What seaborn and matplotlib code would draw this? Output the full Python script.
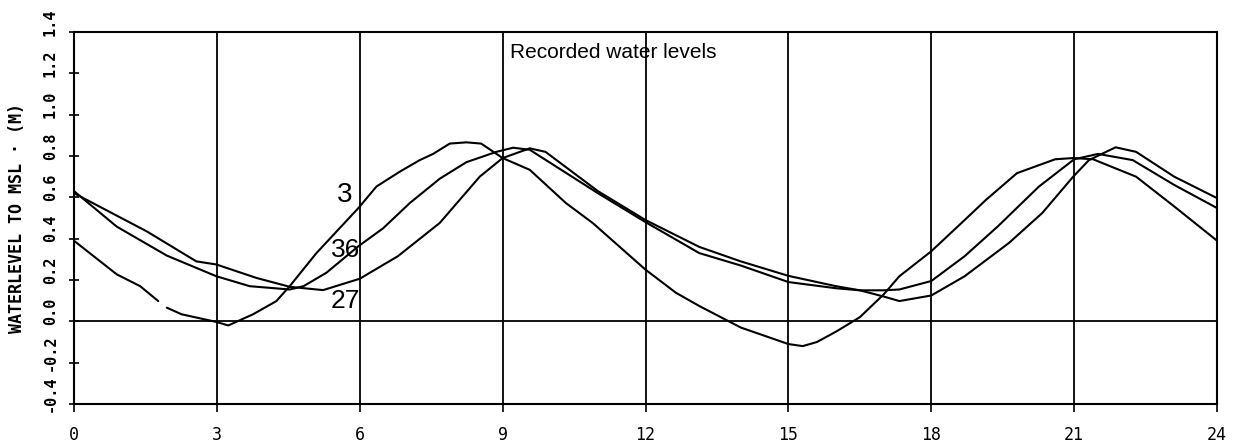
import numpy as np
import pandas as pd
import matplotlib
matplotlib.use("Agg")
import matplotlib.pyplot as plt
import matplotlib.transforms as mtransforms
import seaborn as sns

# ---- data (hours, water level to MSL in m) ----
t3_a = [0.0, 0.9, 1.39, 1.77]
v3_a = [0.39, 0.227, 0.17, 0.098]
t3_b = [1.95, 2.26, 2.99, 3.24, 3.76, 4.25, 4.53, 5.09, 5.98, 6.35, 6.84, 7.26,
        7.54, 7.89, 8.24, 8.55, 9.0, 9.57, 10.33, 10.89, 12.0, 12.64, 13.13, 14.0,
        15.0, 15.3, 15.6, 16.0, 16.5, 17.0, 17.33, 18.0, 18.7, 19.15, 19.8, 20.6,
        20.98, 21.4, 21.6, 22.3, 23.1, 24.0]
v3_b = [0.066, 0.034, -0.003, -0.02, 0.034, 0.098, 0.17, 0.33, 0.55, 0.652, 0.724, 0.78,
        0.81, 0.86, 0.866, 0.86, 0.79, 0.733, 0.572, 0.476, 0.25, 0.138, 0.074, -0.03,
        -0.11, -0.12, -0.10, -0.05, 0.02, 0.13, 0.218, 0.339, 0.49, 0.588, 0.717, 0.784,
        0.79, 0.784, 0.765, 0.70, 0.556, 0.39]

t36 = [0.0, 0.9, 1.95, 2.99, 3.69, 4.53, 4.82, 5.3, 5.97, 6.49, 7.05, 7.68, 8.24, 8.87,
       9.22, 9.57, 11.0, 12.0, 13.13, 14.0, 15.0, 16.0, 16.5, 17.0, 17.33, 18.0, 18.7,
       19.4, 20.26, 21.0, 21.5, 22.23, 23.1, 24.0]
v36 = [0.63, 0.458, 0.318, 0.218, 0.17, 0.154, 0.17, 0.235, 0.363, 0.45, 0.572, 0.69, 0.77, 0.82,
       0.84, 0.83, 0.62, 0.48, 0.33, 0.27, 0.19, 0.16, 0.15, 0.15, 0.154, 0.195, 0.315,
       0.46, 0.652, 0.784, 0.81, 0.78, 0.66, 0.548]

t27 = [0.0, 1.53, 2.57, 2.99, 3.83, 4.53, 5.23, 6.0, 6.8, 7.68, 8.52, 9.0, 9.57, 9.9,
       11.0, 12.0, 13.13, 14.0, 15.0, 16.0, 16.5, 17.0, 17.33, 18.0, 18.7, 19.63, 20.33,
       20.98, 21.31, 21.87, 22.3, 23.1, 24.0]
v27 = [0.62, 0.435, 0.29, 0.275, 0.21, 0.167, 0.151, 0.206, 0.315, 0.476, 0.70, 0.79, 0.837, 0.82,
       0.63, 0.49, 0.36, 0.29, 0.22, 0.17, 0.15, 0.12, 0.098, 0.125, 0.218, 0.379, 0.524,
       0.70, 0.78, 0.842, 0.82, 0.70, 0.596]

station_labels = ["3", "36", "27"]
x_ticks = [0, 3, 6, 9, 12, 15, 18, 21, 24]
y_ticks = [-0.4, -0.2, 0.0, 0.2, 0.4, 0.6, 0.8, 1.0, 1.2, 1.4]
y_tick_labels = ["-0.4", "-0.2", "0.0", "0.2", "0.4", "0.6", "0.8", "1.0", "1.2", "1.4"]
title_text = "Recorded water levels"
y_label = "WATERLEVEL TO MSL \u00b7 (M)"

# ---- build long table ----
frames = [
    pd.DataFrame({"t": t3_a, "h": v3_a, "station": "3", "seg": "3a"}),
    pd.DataFrame({"t": t3_b, "h": v3_b, "station": "3", "seg": "3b"}),
    pd.DataFrame({"t": t36, "h": v36, "station": "36", "seg": "36"}),
    pd.DataFrame({"t": t27, "h": v27, "station": "27", "seg": "27"}),
]
df = pd.concat(frames, ignore_index=True)

sns.set_theme(style="white")
plt.rcParams["font.family"] = ["Liberation Sans", "DejaVu Sans"]
plt.rcParams["text.color"] = "black"
plt.rcParams["axes.labelcolor"] = "black"
plt.rcParams["xtick.color"] = "black"
plt.rcParams["ytick.color"] = "black"

fig = plt.figure(figsize=(12.41, 4.46), dpi=100)
ax = fig.add_axes([0.0596, 0.0942, 0.9211, 0.8341])

sns.lineplot(data=df, x="t", y="h", hue="station", units="seg", estimator=None,
             palette={"3": "black", "36": "black", "27": "black"},
             linewidth=1.5, legend=False, ax=ax, sort=False)

ax.set_xlim(0, 24)
ax.set_ylim(-0.4, 1.4)
ax.set_xticks(x_ticks)
ax.set_xticklabels([str(v) for v in x_ticks], family="DejaVu Sans Mono", fontsize=12)
ax.set_yticks(y_ticks)
ax.set_yticklabels(y_tick_labels, family="DejaVu Sans Mono", fontweight="bold",
                   fontsize=11, rotation=90, va="center")
ax.set_xlabel("")
ax.set_ylabel(y_label, family="DejaVu Sans Mono", fontweight="bold", fontsize=12, labelpad=12)

for xv in x_ticks[1:-1]:
    ax.axvline(xv, color="black", lw=1.3, zorder=1)
ax.axhline(0.0, color="black", lw=1.3, zorder=1)

for s in ax.spines.values():
    s.set_color("black")
    s.set_linewidth(1.5)

ax.tick_params(axis="x", direction="out", length=6, width=1.2, color="black", pad=10, bottom=True)
ax.tick_params(axis="y", direction="inout", length=7, width=1.2, color="black", pad=8, left=True)
off = mtransforms.ScaledTranslation(0, 10 / 100, fig.dpi_scale_trans)
for lab in ax.get_yticklabels():
    lab.set_transform(lab.get_transform() + off)

ax.text(9.15, 1.30, title_text, fontsize=15, va="center", ha="left", color="black")
ax.text(5.85, 0.61, station_labels[0], fontsize=20, va="center", ha="right", color="black")
ax.text(6.0, 0.347, station_labels[1], fontsize=19, va="center", ha="right", color="black")
ax.text(6.0, 0.098, station_labels[2], fontsize=19, va="center", ha="right", color="black")

fig.savefig("out.png", dpi=100)
